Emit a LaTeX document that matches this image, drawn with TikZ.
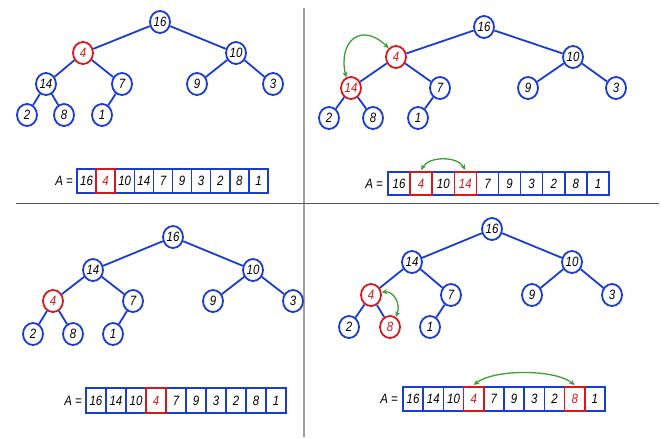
\documentclass[tikz,border=0pt]{standalone}
\usepackage{fontspec}
\setmainfont{Liberation Sans}[FakeStretch=0.85]
\usetikzlibrary{shapes.geometric,arrows.meta}
\definecolor{heapblue}{RGB}{25,60,210}
\definecolor{heapred}{RGB}{215,25,30}
\definecolor{swapgreen}{RGB}{60,160,50}
\definecolor{ruledark}{RGB}{85,85,85}
\definecolor{rulelight}{RGB}{160,160,160}
\begin{document}
\begin{tikzpicture}[x=1pt,y=-1pt,
  font=\fontsize{13.5}{15}\selectfont\itshape,
  hnode/.style={ellipse, draw=heapblue, line width=1.8pt, fill=white,
    minimum width=20pt, minimum height=22pt, inner sep=0pt},
  hot/.style={draw=heapred, text=heapred},
  edge/.style={draw=heapblue, line width=1.8pt},
  cell/.style={rectangle, draw=heapblue, line width=1.5pt, inner sep=0pt, outer sep=0pt},
  cb/.style={},
  cr/.style={text=heapred},
  redframe/.style={draw=heapred, line width=1.5pt},
  swaparrow/.style={draw=swapgreen, line width=1.3pt,
    {Stealth[length=5.5pt,width=5pt]}-{Stealth[length=5.5pt,width=5pt]}},
  lbl/.style={anchor=east, inner sep=0pt}]
\useasboundingbox (0,0) rectangle (661,437);

% quadrant dividers
\coordinate (vtop) at (303.5,8);
\coordinate (vbot) at (303.5,437);
\coordinate (hleft) at (16,203.5);
\coordinate (hright) at (659,203.5);
\draw[rulelight, line width=2pt] (vtop) -- (vbot);
\draw[ruledark, line width=1.3pt] (hleft) -- (hright);

% ---------- heap 1: node 4 violates the heap property ----------
\node[hnode] (a1) at (160,22) {16};
\node[hnode,hot] (a2) at (83,53) {4};
\node[hnode] (a3) at (236,53) {10};
\node[hnode] (a4) at (46,84) {14};
\node[hnode] (a5) at (122,84) {7};
\node[hnode] (a6) at (197,84) {9};
\node[hnode] (a7) at (273,84) {3};
\node[hnode] (a8) at (27,115) {2};
\node[hnode] (a9) at (64,115) {8};
\node[hnode] (a10) at (102,115) {1};
\foreach \p/\c in {1/2,1/3,2/4,2/5,3/6,3/7,4/8,4/9,5/10}
  \draw[edge] (a\p) -- (a\c);

\node[lbl] (la) at (73,181) {A =};
\foreach \v/\s [count=\i from 0] in {16/cb,4/cr,10/cb,14/cb,7/cb,9/cb,3/cb,2/cb,8/cb,1/cb}
  \node[cell,\s,minimum width=19.1pt,minimum height=24pt]
    (p\i) at ({77+19.1*(\i+0.5)},181) {\v};
\draw[redframe] (p1.south west) rectangle (p1.north east);

% ---------- heap 2: swap 4 with 14 ----------
\node[hnode] (b1) at (484,27) {16};
\node[hnode,hot] (b2) at (396,57) {4};
\node[hnode] (b3) at (573,57) {10};
\node[hnode,hot] (b4) at (351,88) {14};
\node[hnode] (b5) at (440,88) {7};
\node[hnode] (b6) at (528,88) {9};
\node[hnode] (b7) at (616,88) {3};
\node[hnode] (b8) at (329,118) {2};
\node[hnode] (b9) at (373,118) {8};
\node[hnode] (b10) at (418,118) {1};
\foreach \p/\c in {1/2,1/3,2/4,2/5,3/6,3/7,4/8,4/9,5/10}
  \draw[edge] (b\p) -- (b\c);
\draw[swaparrow] (b4.115) .. controls (338,40) and (362,22) .. (b2.130);

\node[lbl] (lb) at (383,184) {A =};
\foreach \v/\s [count=\i from 0] in {16/cb,4/cr,10/cb,14/cr,7/cb,9/cb,3/cb,2/cb,8/cb,1/cb}
  \node[cell,\s,minimum width=22.1pt,minimum height=23pt]
    (q\i) at ({388+22.1*(\i+0.5)},183.5) {\v};
\draw[redframe] (q1.south west) rectangle (q1.north east);
\draw[redframe] (q3.south west) rectangle (q3.north east);
\draw[swaparrow] ([yshift=2pt]q1.north) .. controls +(8,-14) and +(-8,-14) .. ([yshift=2pt]q3.north);

% ---------- heap 3: node 4 one level down ----------
\node[hnode] (c1) at (173,237) {16};
\node[hnode] (c2) at (93,270) {14};
\node[hnode] (c3) at (253,270) {10};
\node[hnode,hot] (c4) at (53,301) {4};
\node[hnode] (c5) at (133,301) {7};
\node[hnode] (c6) at (213,301) {9};
\node[hnode] (c7) at (293,301) {3};
\node[hnode] (c8) at (33,334) {2};
\node[hnode] (c9) at (73,334) {8};
\node[hnode] (c10) at (113,334) {1};
\foreach \p/\c in {1/2,1/3,2/4,2/5,3/6,3/7,4/8,4/9,5/10}
  \draw[edge] (c\p) -- (c\c);

\node[lbl] (lc) at (82,401) {A =};
\foreach \v/\s [count=\i from 0] in {16/cb,14/cb,10/cb,4/cr,7/cb,9/cb,3/cb,2/cb,8/cb,1/cb}
  \node[cell,\s,minimum width=20pt,minimum height=25pt]
    (r\i) at ({86+20*(\i+0.5)},400.5) {\v};
\draw[redframe] (r3.south west) rectangle (r3.north east);

% ---------- heap 4: swap 4 with 8 ----------
\node[hnode] (d1) at (492,229) {16};
\node[hnode] (d2) at (412,262) {14};
\node[hnode] (d3) at (572,262) {10};
\node[hnode,hot] (d4) at (371,295) {4};
\node[hnode] (d5) at (451,295) {7};
\node[hnode] (d6) at (532,295) {9};
\node[hnode] (d7) at (612,295) {3};
\node[hnode] (d8) at (349,327) {2};
\node[hnode,hot] (d9) at (390,327) {8};
\node[hnode] (d10) at (430,327) {1};
\foreach \p/\c in {1/2,1/3,2/4,2/5,3/6,3/7,4/8,4/9,5/10}
  \draw[edge] (d\p) -- (d\c);
\draw[swaparrow] (d4.15) .. controls (394,291) and (401,304) .. (d9.60);

\node[lbl] (ld) at (398,399) {A =};
\foreach \v/\s [count=\i from 0] in {16/cb,14/cb,10/cb,4/cr,7/cb,9/cb,3/cb,2/cb,8/cr,1/cb}
  \node[cell,\s,minimum width=20.2pt,minimum height=24pt]
    (s\i) at ({403+20.2*(\i+0.5)},399) {\v};
\draw[redframe] (s3.south west) rectangle (s3.north east);
\draw[redframe] (s8.south west) rectangle (s8.north east);
\draw[swaparrow] ([yshift=2pt]s3.north) .. controls +(20,-16) and +(-20,-16) .. ([yshift=2pt]s8.north);
\end{tikzpicture}
\end{document}
